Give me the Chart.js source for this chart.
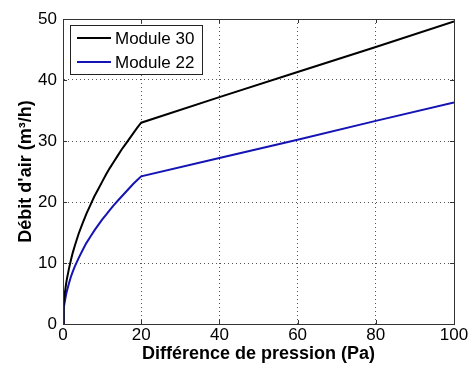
<!DOCTYPE html>
<html>
<head>
<meta charset="utf-8">
<script src="https://cdn.jsdelivr.net/npm/chart.js@4/dist/chart.umd.min.js"></script>
<style>
  html, body { margin: 0; padding: 0; background: #fff; }
  #wrap { width: 469px; height: 365px; }
</style>
</head>
<body>
<div id="wrap"><canvas id="chart"></canvas></div>
<script>
// pressure difference (Pa)
const pressure = [0, 0.1, 0.25, 0.5, 0.75, 1, 1.5, 2, 2.5, 3, 4, 5, 6, 7, 8, 9, 10, 11, 12, 13, 14, 15, 16, 17, 18, 19, 20, 40, 60, 80, 100]
// air flow (m3/h)
const module30 = [0, 2.3, 3.7, 5.2, 6.4, 7.4, 9.0, 10.4, 11.7, 12.8, 14.8, 16.5, 18.1, 19.5, 20.9, 22.1, 23.3, 24.5, 25.6, 26.6, 27.6, 28.6, 29.5, 30.4, 31.3, 32.2, 33.0, 37.2, 41.3, 45.4, 49.6]
const module22 = [0, 1.7, 2.7, 3.8, 4.7, 5.4, 6.6, 7.7, 8.6, 9.4, 10.8, 12.1, 13.3, 14.3, 15.3, 16.2, 17.1, 17.9, 18.7, 19.5, 20.2, 20.9, 21.6, 22.3, 23.0, 23.6, 24.2, 27.2, 30.2, 33.3, 36.3]
const seriesNames = ['Module 30', 'Module 22']
const seriesColours = ['#000000', '#1414b4']
const xTicks = [0, 20, 40, 60, 80, 100]
const yTicks = [0, 10, 20, 30, 40, 50]

const toPoints = (ys) => pressure.map((x, i) => ({ x, y: ys[i] }))

// box round the axes plus little inward ticks, matlab style
const framePlugin = {
  id: 'frame',
  afterDatasetsDraw(chart) {
    const { ctx, chartArea: a, scales } = chart
    ctx.save()
    ctx.strokeStyle = '#333'
    ctx.lineWidth = 1
    ctx.beginPath()
    xTicks.forEach((v) => {
      const px = Math.round(scales.x.getPixelForValue(v)) + 0.5
      ctx.moveTo(px, a.bottom); ctx.lineTo(px, a.bottom - 4)
      ctx.moveTo(px, a.top); ctx.lineTo(px, a.top + 4)
    })
    yTicks.forEach((v) => {
      const py = Math.round(scales.y.getPixelForValue(v)) + 0.5
      ctx.moveTo(a.left, py); ctx.lineTo(a.left + 4, py)
      ctx.moveTo(a.right, py); ctx.lineTo(a.right - 4, py)
    })
    ctx.stroke()
    ctx.strokeRect(Math.round(a.left) + 0.5, Math.round(a.top) + 0.5, Math.round(a.right - a.left), Math.round(a.bottom - a.top))
    ctx.restore()
  },
}

const legendPlugin = {
  id: 'boxLegend',
  afterDraw(chart) {
    const { ctx, chartArea: a } = chart
    const x = a.left + 7
    const y = a.top + 6
    ctx.save()
    ctx.fillStyle = '#fff'
    ctx.fillRect(x, y, 132, 49)
    ctx.strokeStyle = '#222'
    ctx.lineWidth = 1
    ctx.strokeRect(x + 0.5, y + 0.5, 132, 49)
    ctx.font = '17px "Liberation Sans", Arial, sans-serif'
    ctx.textBaseline = 'middle'
    chart.data.datasets.forEach((ds, i) => {
      const ly = y + 13 + i * 24
      ctx.strokeStyle = ds.borderColor
      ctx.lineWidth = 2
      ctx.beginPath()
      ctx.moveTo(x + 7, ly)
      ctx.lineTo(x + 41, ly)
      ctx.stroke()
      ctx.fillStyle = '#000'
      ctx.fillText(ds.label, x + 45, ly + 1)
    })
    ctx.restore()
  },
}

const tickFont = { family: '"Liberation Sans", Arial, sans-serif', size: 17 }
const titleFont = { family: '"Liberation Sans", Arial, sans-serif', size: 18, weight: 'bold', lineHeight: 1.2 }

new Chart(document.getElementById('chart'), {
  type: 'line',
  data: {
    datasets: [
      { label: seriesNames[0], data: toPoints(module30), borderColor: seriesColours[0], borderWidth: 2 },
      { label: seriesNames[1], data: toPoints(module22), borderColor: seriesColours[1], borderWidth: 2 },
    ],
  },
  options: {
    responsive: true,
    maintainAspectRatio: false,
    animation: false,
    layout: { padding: { top: 19, right: 15, left: 0, bottom: 0 } },
    elements: {
      point: { radius: 0 },
      line: { tension: 0 },
    },
    plugins: {
      legend: { display: false },
      tooltip: { enabled: false },
    },
    scales: {
      x: {
        type: 'linear',
        min: 0,
        max: 100,
        afterBuildTicks(scale) { scale.ticks = xTicks.map((value) => ({ value })) },
        afterFit(scale) {
          scale.height = 41
          scale.paddingLeft = 0
          scale.paddingRight = 0
        },
        ticks: { color: '#000', font: tickFont, padding: 1, maxRotation: 0 },
        grid: { color: '#555', drawTicks: false },
        border: { display: true, color: '#333', dash: [1, 3] },
        title: { display: true, text: 'Différence de pression (Pa)', color: '#000', font: titleFont, padding: { top: 0, bottom: 0 } },
      },
      y: {
        min: 0,
        max: 50,
        afterBuildTicks(scale) { scale.ticks = yTicks.map((value) => ({ value })) },
        afterFit(scale) {
          scale.width = 63
          scale.paddingTop = 0
          scale.paddingBottom = 0
        },
        ticks: { color: '#000', font: tickFont, padding: 6 },
        grid: { color: '#555', drawTicks: false },
        border: { display: true, color: '#333', dash: [1, 3] },
        title: { display: true, text: 'Débit d\'air (m³/h)', color: '#000', font: titleFont, padding: { top: 15, bottom: 0 } },
      },
    },
  },
  plugins: [framePlugin, legendPlugin],
})
</script>
</body>
</html>
